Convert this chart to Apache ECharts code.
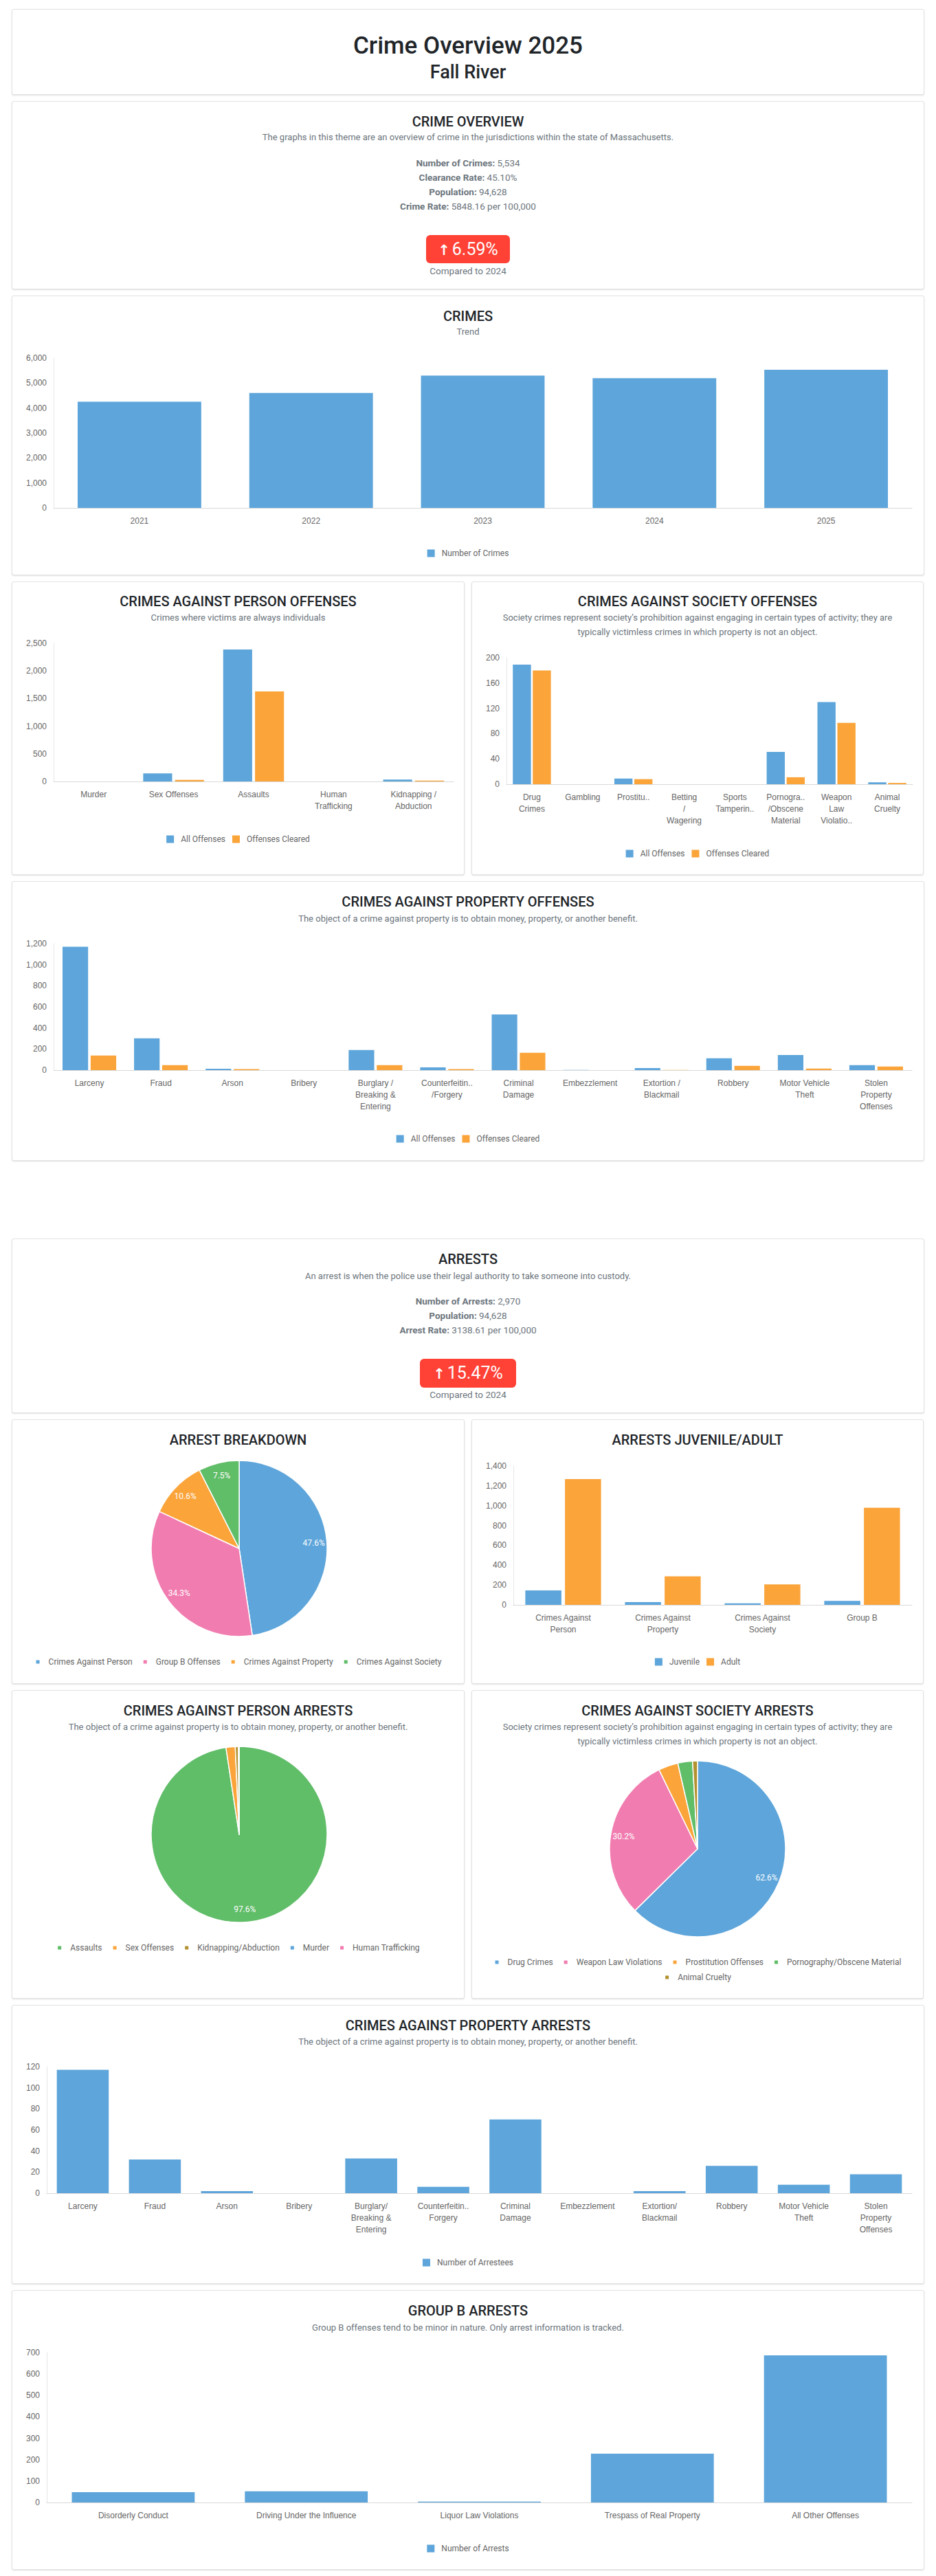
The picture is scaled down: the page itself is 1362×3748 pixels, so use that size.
<!DOCTYPE html>
<html><head><meta charset="utf-8">
<script src="https://cdn.jsdelivr.net/npm/echarts@6/dist/echarts.min.js"></script>
<style>
body{margin:0;background:#fff;font-family:Roboto,"Liberation Sans",sans-serif;}
#page{position:relative;width:1362px;height:3748px;overflow:hidden;}
.card{position:absolute;background:#fff;border:1px solid #e3e3e3;border-radius:3px;box-shadow:0 1px 2px rgba(0,0,0,0.13);box-sizing:border-box;}
.t{position:absolute;text-align:center;white-space:nowrap;}
.htitle{font-size:35px;font-weight:500;color:#212529;}
.hsub{font-size:27px;font-weight:500;color:#212529;}
.title{font-size:20px;font-weight:500;color:#212529;}
.sub{font-size:13px;color:#6c757d;}
.stat{font-size:13.5px;color:#6c757d;}
.stat b{font-weight:700;}
.badge{position:absolute;background:#ff4136;color:#fff;border-radius:6px;text-align:center;font-size:25px;}
.badge .ar{font-family:"DejaVu Sans";font-weight:bold;font-size:21px;margin-right:3px;}
</style></head>
<body><div id="page"></div>
<script>
// ---------------- DATA ----------------
const crimeYears = ['2021', '2022', '2023', '2024', '2025'];
const crimeCounts = [4255, 4605, 5300, 5192, 5534];
const crimeTicks = [0, 1000, 2000, 3000, 4000, 5000, 6000];

const personOffCats = ['Murder', 'Sex Offenses', 'Assaults', 'Human\nTrafficking', 'Kidnapping /\nAbduction'];
const personOffAll = [1, 145, 2388, 0, 33];
const personOffCleared = [1, 29, 1628, 0, 17];
const personOffTicks = [0, 500, 1000, 1500, 2000, 2500];

const societyOffCats = ['Drug\nCrimes', 'Gambling', 'Prostitu..', 'Betting\n/\nWagering', 'Sports\nTamperin..', 'Pornogra..\n/Obscene\nMaterial', 'Weapon\nLaw\nViolatio..', 'Animal\nCruelty'];
const societyOffAll = [189, 0, 9, 0, 0, 51, 130, 3];
const societyOffCleared = [180, 0, 8, 0, 0, 11, 97, 2];
const societyOffTicks = [0, 40, 80, 120, 160, 200];

const propertyOffCats = ['Larceny', 'Fraud', 'Arson', 'Bribery', 'Burglary /\nBreaking &\nEntering', 'Counterfeitin..\n/Forgery', 'Criminal\nDamage', 'Embezzlement', 'Extortion /\nBlackmail', 'Robbery', 'Motor Vehicle\nTheft', 'Stolen\nProperty\nOffenses'];
const propertyOffAll = [1170, 301, 13, 0, 191, 26, 528, 2, 20, 113, 143, 48];
const propertyOffCleared = [139, 48, 9, 0, 48, 9, 165, 0, 2, 41, 15, 35];
const propertyOffTicks = [0, 200, 400, 600, 800, 1000, 1200];

const breakdownNames = ['Crimes Against Person', 'Group B Offenses', 'Crimes Against Property', 'Crimes Against Society'];
const breakdownValues = [1414, 1019, 315, 222];

const ageCats = ['Crimes Against\nPerson', 'Crimes Against\nProperty', 'Crimes Against\nSociety', 'Group B'];
const juvenileArrests = [145, 28, 15, 40];
const adultArrests = [1269, 287, 207, 979];
const ageTicks = [0, 200, 400, 600, 800, 1000, 1200, 1400];

const personArrNames = ['Assaults', 'Sex Offenses', 'Kidnapping/Abduction', 'Murder', 'Human Trafficking'];
const personArrValues = [1380, 24, 8, 2, 0];

const societyArrNames = ['Drug Crimes', 'Weapon Law Violations', 'Prostitution Offenses', 'Pornography/Obscene Material', 'Animal Cruelty'];
const societyArrValues = [139, 67, 8, 6, 2];

const propertyArrCats = ['Larceny', 'Fraud', 'Arson', 'Bribery', 'Burglary/\nBreaking &\nEntering', 'Counterfeitin..\nForgery', 'Criminal\nDamage', 'Embezzlement', 'Extortion/\nBlackmail', 'Robbery', 'Motor Vehicle\nTheft', 'Stolen\nProperty\nOffenses'];
const propertyArrValues = [117, 32, 2, 0, 33, 6, 70, 0, 2, 26, 8, 18];
const propertyArrTicks = [0, 20, 40, 60, 80, 100, 120];

const groupBCats = ['Disorderly Conduct', 'Driving Under the Influence', 'Liquor Law Violations', 'Trespass of Real Property', 'All Other Offenses'];
const groupBValues = [48, 52, 4, 228, 687];
const groupBTicks = [0, 100, 200, 300, 400, 500, 600, 700];

// ---------------- STYLE ----------------
const BLUE = '#5DA5DA', ORANGE = '#FAA43A', GREEN = '#60BD68', PINK = '#F17CB0', BROWN = '#B2912F';
const page = document.getElementById('page');

function card(r) {
  const d = document.createElement('div');
  d.className = 'card';
  d.style.cssText = `left:${r[0]}px;top:${r[1]}px;width:${r[2]}px;height:${r[3]}px`;
  page.appendChild(d);
}
function text(r, cy, html, cls, lh) {
  const d = document.createElement('div');
  d.className = 't ' + cls;
  d.style.cssText = `left:${r[0]}px;width:${r[2]}px;top:${cy - lh / 2}px;height:${lh}px;line-height:${lh}px`;
  d.innerHTML = html;
  page.appendChild(d);
}
function badge(x, y, w, h, val) {
  const d = document.createElement('div');
  d.className = 'badge';
  d.style.cssText = `left:${x}px;top:${y}px;width:${w}px;height:${h}px;line-height:${h}px`;
  d.innerHTML = '<span class="ar">↑</span>' + val;
  page.appendChild(d);
}
function mk(r) {
  const d = document.createElement('div');
  d.style.cssText = `position:absolute;left:${r[0]}px;top:${r[1]}px;width:${r[2]}px;height:${r[3]}px`;
  page.appendChild(d);
  return echarts.init(d, null, { renderer: 'svg' });
}
const fmt = v => v.toLocaleString('en-US');

function barChart(r, g, cats, series, ticks, legendCy, gap) {
  const ch = mk(r);
  ch.setOption({
    animation: false,
    grid: { left: g[0] - r[0], top: g[1] - r[1], right: r[0] + r[2] - g[2], bottom: r[1] + r[3] - g[3] },
    legend: {
      left: 'center', top: legendCy - 7 - r[1], icon: 'rect', itemWidth: 11, itemHeight: 11, itemGap: 10,
      textStyle: { fontSize: 12, color: '#666', fontFamily: 'Roboto', lineHeight: 14, padding: [0, 0, 0, 5] },
      data: series.map(s => s.name)
    },
    xAxis: {
      type: 'category', data: cats,
      axisLine: { lineStyle: { color: '#d9d9d9' } }, axisTick: { show: false },
      axisLabel: { interval: 0, color: '#666', fontSize: 12, fontFamily: 'Liberation Sans', lineHeight: 17, margin: 10 }
    },
    yAxis: {
      type: 'value', min: ticks[0], max: ticks[ticks.length - 1], interval: ticks[1] - ticks[0],
      axisLine: { show: true, lineStyle: { color: '#e6e6e6' } }, axisTick: { show: false },
      splitLine: { show: false },
      axisLabel: { color: '#666', fontSize: 12, fontFamily: 'Liberation Sans', margin: 10, formatter: fmt }
    },
    series: series.map(s => ({
      type: 'bar', name: s.name, data: s.data, itemStyle: { color: s.color },
      barCategoryGap: gap, barGap: '10%', emphasis: { disabled: true }
    }))
  });
}

function pieChart(r, c, names, values, colors, legendRows) {
  const ch = mk(r);
  const data = names.map((n, i) => ({ name: n, value: values[i], itemStyle: { color: colors[i] } }));
  const center = [c[0] - r[0], c[1] - r[1]];
  ch.setOption({
    animation: false,
    legend: legendRows.map(row => ({
      left: 'center', top: row[1] - 7 - r[1], icon: 'rect', itemWidth: 7, itemHeight: 7, itemGap: 14,
      textStyle: { fontSize: 12, color: '#666', fontFamily: 'Roboto', lineHeight: 14, padding: [0, 0, 0, 7] },
      data: row[0]
    })),
    series: [
      {
        type: 'pie', radius: [0, 128], center: center, startAngle: 90, clockwise: true,
        data: data, label: { show: false }, labelLine: { show: false },
        itemStyle: { borderColor: '#fff', borderWidth: 1.5 }, emphasis: { disabled: true }
      },
      {
        type: 'pie', radius: [84, 128], center: center, startAngle: 90, clockwise: true, silent: true,
        data: data.map(d => ({ name: d.name, value: d.value, itemStyle: { color: 'rgba(0,0,0,0)' } })),
        itemStyle: { borderWidth: 0 }, emphasis: { disabled: true }, labelLine: { show: false },
        label: {
          show: true, position: 'inside', color: '#fff', fontSize: 12, fontFamily: 'Roboto',
          formatter: p => p.percent >= 5 ? p.percent.toFixed(1) + '%' : ''
        }
      }
    ]
  });
}

// ---------------- LAYOUT ----------------
const R = {
  header: [17, 13, 1328, 125],
  overview: [17, 147, 1328, 274],
  crimes: [17, 430, 1328, 407],
  personOff: [17, 846, 659, 427],
  societyOff: [686, 846, 658, 427],
  propertyOff: [17, 1282, 1328, 407],
  arrests: [17, 1802, 1328, 254],
  breakdown: [17, 2065, 659, 385],
  age: [686, 2065, 658, 385],
  personArr: [17, 2459, 659, 449],
  societyArr: [686, 2459, 658, 449],
  propertyArr: [17, 2917, 1328, 406],
  groupB: [17, 3332, 1328, 407]
};
Object.values(R).forEach(card);

// header
text(R.header, 67, 'Crime Overview 2025', 'htitle', 42);
text(R.header, 105, 'Fall River', 'hsub', 32);

// overview
text(R.overview, 177, 'CRIME OVERVIEW', 'title', 24);
text(R.overview, 200, 'The graphs in this theme are an overview of crime in the jurisdictions within the state of Massachusetts.', 'sub', 18);
text(R.overview, 237, '<b>Number of Crimes:</b> 5,534', 'stat', 21);
text(R.overview, 258, '<b>Clearance Rate:</b> 45.10%', 'stat', 21);
text(R.overview, 279, '<b>Population:</b> 94,628', 'stat', 21);
text(R.overview, 300, '<b>Crime Rate:</b> 5848.16 per 100,000', 'stat', 21);
badge(620, 342, 122, 41, '6.59%');
text(R.overview, 394, 'Compared to 2024', 'stat', 18);

// crimes trend
text(R.crimes, 460, 'CRIMES', 'title', 24);
text(R.crimes, 483, 'Trend', 'sub', 18);
barChart(R.crimes, [78, 521, 1327, 739], crimeYears, [{ name: 'Number of Crimes', data: crimeCounts, color: BLUE }], crimeTicks, 800, '28%');

// person offenses
text(R.personOff, 875, 'CRIMES AGAINST PERSON OFFENSES', 'title', 24);
text(R.personOff, 899, 'Crimes where victims are always individuals', 'sub', 18);
barChart(R.personOff, [78, 936, 660, 1137], personOffCats, [
  { name: 'All Offenses', data: personOffAll, color: BLUE },
  { name: 'Offenses Cleared', data: personOffCleared, color: ORANGE }], personOffTicks, 1216, '24%');

// society offenses
text(R.societyOff, 875, 'CRIMES AGAINST SOCIETY OFFENSES', 'title', 24);
text(R.societyOff, 899, 'Society crimes represent society’s prohibition against engaging in certain types of activity; they are', 'sub', 18);
text(R.societyOff, 920, 'typically victimless crimes in which property is not an object.', 'sub', 18);
barChart(R.societyOff, [737, 957, 1328, 1141], societyOffCats, [
  { name: 'All Offenses', data: societyOffAll, color: BLUE },
  { name: 'Offenses Cleared', data: societyOffCleared, color: ORANGE }], societyOffTicks, 1237, '25%');

// property offenses
text(R.propertyOff, 1312, 'CRIMES AGAINST PROPERTY OFFENSES', 'title', 24);
text(R.propertyOff, 1337, 'The object of a crime against property is to obtain money, property, or another benefit.', 'sub', 18);
barChart(R.propertyOff, [78, 1373, 1327, 1557], propertyOffCats, [
  { name: 'All Offenses', data: propertyOffAll, color: BLUE },
  { name: 'Offenses Cleared', data: propertyOffCleared, color: ORANGE }], propertyOffTicks, 1652, '25%');

// arrests
text(R.arrests, 1832, 'ARRESTS', 'title', 24);
text(R.arrests, 1857, 'An arrest is when the police use their legal authority to take someone into custody.', 'sub', 18);
text(R.arrests, 1893, '<b>Number of Arrests:</b> 2,970', 'stat', 21);
text(R.arrests, 1914, '<b>Population:</b> 94,628', 'stat', 21);
text(R.arrests, 1935, '<b>Arrest Rate:</b> 3138.61 per 100,000', 'stat', 21);
badge(611, 1977, 140, 42, '15.47%');
text(R.arrests, 2029, 'Compared to 2024', 'stat', 18);

// arrest breakdown
text(R.breakdown, 2095, 'ARREST BREAKDOWN', 'title', 24);
pieChart(R.breakdown, [348, 2253], breakdownNames, breakdownValues, [BLUE, PINK, ORANGE, GREEN], [[breakdownNames, 2413]]);

// juvenile / adult
text(R.age, 2095, 'ARRESTS JUVENILE/ADULT', 'title', 24);
barChart(R.age, [747, 2133, 1327, 2335], ageCats, [
  { name: 'Juvenile', data: juvenileArrests, color: BLUE },
  { name: 'Adult', data: adultArrests, color: ORANGE }], ageTicks, 2413, '24%');

// person arrests
text(R.personArr, 2489, 'CRIMES AGAINST PERSON ARRESTS', 'title', 24);
text(R.personArr, 2513, 'The object of a crime against property is to obtain money, property, or another benefit.', 'sub', 18);
pieChart(R.personArr, [348, 2669], personArrNames, personArrValues, [GREEN, ORANGE, BROWN, BLUE, PINK], [[personArrNames, 2829]]);

// society arrests
text(R.societyArr, 2489, 'CRIMES AGAINST SOCIETY ARRESTS', 'title', 24);
text(R.societyArr, 2513, 'Society crimes represent society’s prohibition against engaging in certain types of activity; they are', 'sub', 18);
text(R.societyArr, 2534, 'typically victimless crimes in which property is not an object.', 'sub', 18);
pieChart(R.societyArr, [1015, 2690], societyArrNames, societyArrValues, [BLUE, PINK, ORANGE, GREEN, BROWN],
  [[societyArrNames.slice(0, 4), 2850], [societyArrNames.slice(4), 2872]]);

// property arrests
text(R.propertyArr, 2947, 'CRIMES AGAINST PROPERTY ARRESTS', 'title', 24);
text(R.propertyArr, 2971, 'The object of a crime against property is to obtain money, property, or another benefit.', 'sub', 18);
barChart(R.propertyArr, [68, 3007, 1327, 3191], propertyArrCats, [{ name: 'Number of Arrestees', data: propertyArrValues, color: BLUE }], propertyArrTicks, 3287, '28%');

// group B
text(R.groupB, 3362, 'GROUP B ARRESTS', 'title', 24);
text(R.groupB, 3387, 'Group B offenses tend to be minor in nature. Only arrest information is tracked.', 'sub', 18);
barChart(R.groupB, [68, 3423, 1327, 3641], groupBCats, [{ name: 'Number of Arrests', data: groupBValues, color: BLUE }], groupBTicks, 3703, '29%');
</script>
</body></html>
